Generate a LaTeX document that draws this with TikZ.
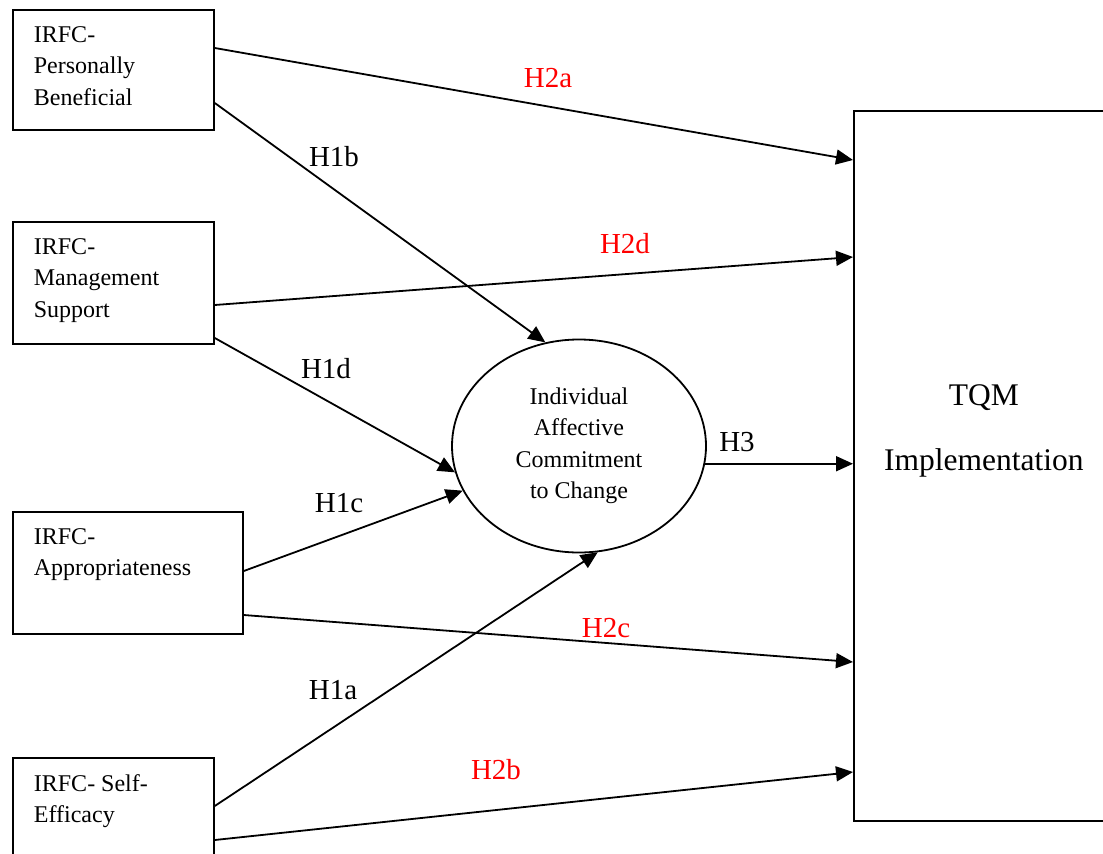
\documentclass[tikz,border=0pt]{standalone}
\usepackage{fontspec}
\setmainfont{Liberation Serif}
\usetikzlibrary{arrows.meta,shapes.geometric}
\newcommand{\boxtext}[3]{\parbox[c][#1][t]{#2}{\fontsize{24}{31.5}\selectfont\raggedright\leftskip=21pt\vspace*{16.5pt}#3\par}}
\tikzset{
  box/.style={draw, line width=1.8pt, rectangle, inner sep=0pt, anchor=north west},
  arr/.style={line width=1.8pt, -{Triangle[length=17pt,width=15pt]}},
  lab/.style={font=\fontsize{29}{34}\selectfont, inner sep=0pt},
  redlab/.style={lab, text=red}
}
\begin{document}
\begin{tikzpicture}[x=1pt,y=-1pt]
\useasboundingbox (0,0) rectangle (1103,854);
\clip (0,0) rectangle (1103,854);
\fill[white] (0,0) rectangle (1103,854);
% boxes
\node[box, minimum width=201pt, minimum height=120pt] (b1) at (12,9) {\boxtext{120pt}{201pt}{IRFC-\\Personally\\Beneficial}};
\node[box, minimum width=201pt, minimum height=122pt] (b2) at (12,221) {\boxtext{122pt}{201pt}{IRFC-\\Management\\Support}};
\node[box, minimum width=230pt, minimum height=122pt] (b3) at (12,511) {\boxtext{122pt}{230pt}{IRFC-\\Appropriateness}};
\node[box, minimum width=201pt, minimum height=115pt] (b4) at (12,757) {\boxtext{115pt}{201pt}{IRFC- Self-\\Efficacy}};
\node[box, minimum width=260pt, minimum height=710pt] (tqm) at (853,110) {\parbox[c][710pt][t]{260pt}{\centering\fontsize{31.5}{65}\selectfont\vspace*{274pt}TQM\\Implementation\par}};
\node[ellipse, draw, line width=1.8pt, minimum width=254pt, minimum height=213pt, inner sep=0pt, align=center, font=\fontsize{24}{31.5}\selectfont] (ell) at (579,446) {Individual\\Affective\\Commitment\\to Change};
% connectors
\draw[arr] (b1.east |- 0,48) -- (tqm.west |- 0,160);
\draw[arr] (b1.east |- 0,103) -- (ell.108);
\draw[arr] (b2.east |- 0,305) -- (tqm.west |- 0,257);
\draw[arr] (b2.east |- 0,338) -- (ell.192);
\draw[arr] (b3.east |- 0,571) -- (ell.201);
\draw[arr] (b3.east |- 0,615) -- (tqm.west |- 0,662);
\draw[arr] (b4.east |- 0,806) -- (ell.280);
\draw[arr] (b4.east |- 0,840) -- (tqm.west |- 0,772);
\draw[arr] (ell.352) -- (tqm.west |- ell.352);
% labels
\node[redlab] (l2a) at (548,78) {H2a};
\node[lab] (l1b) at (334,157) {H1b};
\node[redlab] (l2d) at (625,244) {H2d};
\node[lab] (l1d) at (326,369) {H1d};
\node[lab] (l1c) at (339,503) {H1c};
\node[redlab] (l2c) at (606,628) {H2c};
\node[lab] (l1a) at (333,690) {H1a};
\node[redlab] (l2b) at (496,770) {H2b};
\node[lab] (l3) at (737,442) {H3};
\end{tikzpicture}
\end{document}
